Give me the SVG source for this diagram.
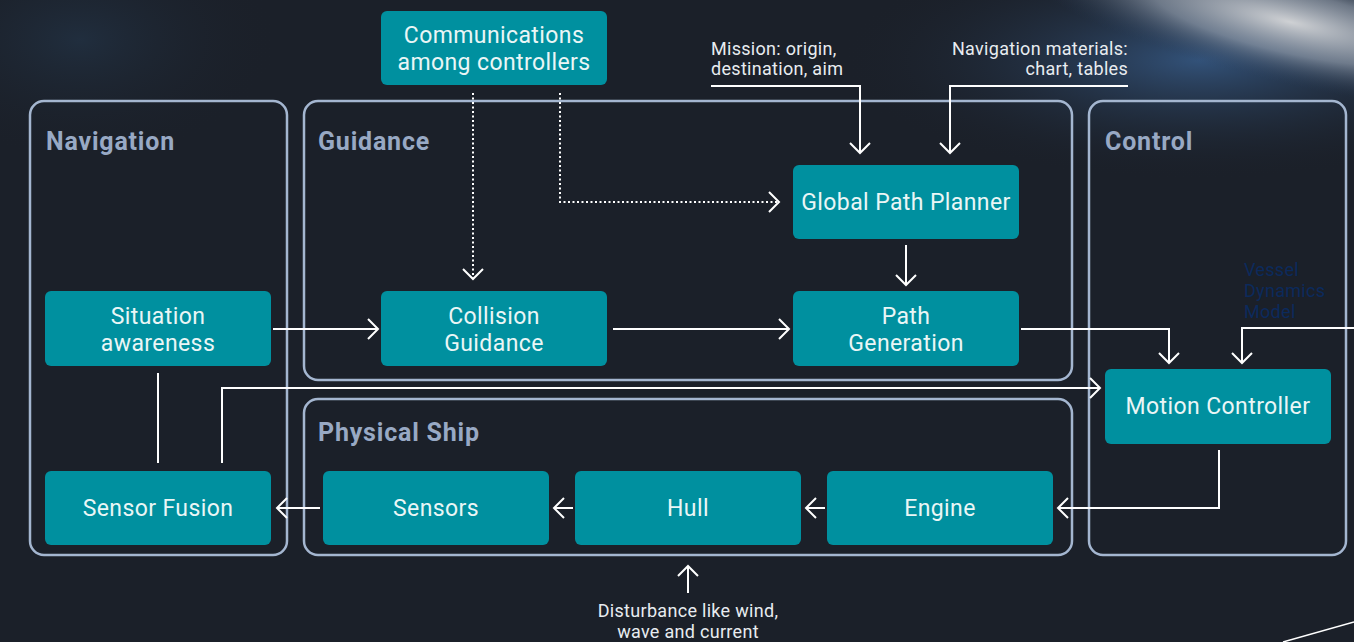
<svg xmlns="http://www.w3.org/2000/svg" width="1354" height="642" viewBox="0 0 1354 642">
<defs>
<radialGradient id="glow" cx="0.5" cy="0.5" r="0.5">
<stop offset="0" stop-color="#cfd1d4" stop-opacity="1"/>
<stop offset="0.5" stop-color="#97a2b1" stop-opacity="0.65"/>
<stop offset="1" stop-color="#2a3d58" stop-opacity="0"/>
</radialGradient>
<radialGradient id="blue" cx="0.5" cy="0.5" r="0.5">
<stop offset="0" stop-color="#34557e" stop-opacity="0.95"/>
<stop offset="1" stop-color="#1b2029" stop-opacity="0"/>
</radialGradient>
<radialGradient id="tl" cx="0.5" cy="0.5" r="0.5">
<stop offset="0" stop-color="#24374c" stop-opacity="0.6"/>
<stop offset="1" stop-color="#1b2029" stop-opacity="0"/>
</radialGradient>
<marker id="ar" markerWidth="14" markerHeight="24" refX="11" refY="12" orient="auto" markerUnits="userSpaceOnUse">
<path d="M1,2 L11,12 L1,22" fill="none" stroke="#ffffff" stroke-width="2"/>
</marker>
<style>
.grp{fill:none;stroke:#a4b6d0;stroke-width:2.5}
.ttl{font-family:Roboto,"Liberation Sans",sans-serif;font-weight:bold;font-size:25px;letter-spacing:0.8px;fill:#98a9c4}
.node{fill:#00909f}
.nt{font-family:Roboto,"Liberation Sans",sans-serif;font-size:23px;letter-spacing:0.4px;fill:#eaf6f6;text-anchor:middle}
.lbl{font-family:Roboto,"Liberation Sans",sans-serif;font-size:18px;letter-spacing:0.3px;fill:#e8ecf0}
.ln{fill:none;stroke:#ffffff;stroke-width:2}
.dot{fill:none;stroke:#ffffff;stroke-width:2;stroke-dasharray:2 2.5}
</style>
</defs>
<rect x="0" y="0" width="1354" height="642" fill="#1b2029"/>
<ellipse cx="80" cy="40" rx="200" ry="120" fill="url(#tl)"/>
<ellipse cx="1200" cy="60" rx="360" ry="120" fill="url(#blue)"/>
<ellipse cx="1290" cy="22" rx="280" ry="62" fill="url(#glow)" transform="rotate(13 1290 22)"/>
<path d="M1283,642 L1354,622" stroke="#ffffff" stroke-width="1.5" fill="none"/>

<g id="navigation">
<rect class="grp" x="30" y="101" width="257" height="454" rx="14"/>
<text class="ttl" x="46" y="150">Navigation</text>
</g>
<g id="guidance">
<rect class="grp" x="304" y="101" width="768" height="279" rx="14"/>
<text class="ttl" x="318" y="150">Guidance</text>
</g>
<g id="control">
<rect class="grp" x="1089" y="101" width="257" height="454" rx="14"/>
<text class="ttl" x="1105" y="150">Control</text>
</g>
<g id="physical-ship">
<rect class="grp" x="304" y="399" width="768" height="156" rx="14"/>
<text class="ttl" x="318" y="441">Physical Ship</text>
</g>

<g id="connectors">
<path class="ln" d="M273,329 H378" marker-end="url(#ar)"/>
<path class="ln" d="M613,329 H789" marker-end="url(#ar)"/>
<path class="ln" d="M906,245 V285" marker-end="url(#ar)"/>
<path class="ln" d="M1021,329 H1169 V363" marker-end="url(#ar)"/>
<path class="ln" d="M1354,328 H1242 V363" marker-end="url(#ar)"/>
<path class="ln" d="M158,373 V463"/>
<path class="ln" d="M222,463 V388 H1100" marker-end="url(#ar)"/>
<path class="ln" d="M1219,450 V508 H1058" marker-end="url(#ar)"/>
<path class="ln" d="M825,508 H806" marker-end="url(#ar)"/>
<path class="ln" d="M573,508 H554" marker-end="url(#ar)"/>
<path class="ln" d="M320,508 H277" marker-end="url(#ar)"/>
<path class="ln" d="M688,593 V566" marker-end="url(#ar)"/>
<path class="dot" d="M473,93 V279" marker-end="url(#ar)"/>
<path class="dot" d="M560,93 V202 H779" marker-end="url(#ar)"/>
<path class="ln" d="M711,86 H860 V153" marker-end="url(#ar)"/>
<path class="ln" d="M1128,86 H950 V153" marker-end="url(#ar)"/>
</g>

<g id="communications">
<rect class="node" x="381" y="11" width="226" height="74" rx="6"/>
<text class="nt" x="494" y="43">Communications</text>
<text class="nt" x="494" y="70">among controllers</text>
</g>
<g id="global-path-planner">
<rect class="node" x="793" y="165" width="226" height="74" rx="6"/>
<text class="nt" x="906" y="210">Global Path Planner</text>
</g>
<g id="situation-awareness">
<rect class="node" x="45" y="291" width="226" height="75" rx="6"/>
<text class="nt" x="158" y="324">Situation</text>
<text class="nt" x="158" y="351">awareness</text>
</g>
<g id="collision-guidance">
<rect class="node" x="381" y="291" width="226" height="75" rx="6"/>
<text class="nt" x="494" y="324">Collision</text>
<text class="nt" x="494" y="351">Guidance</text>
</g>
<g id="path-generation">
<rect class="node" x="793" y="291" width="226" height="75" rx="6"/>
<text class="nt" x="906" y="324">Path</text>
<text class="nt" x="906" y="351">Generation</text>
</g>
<g id="motion-controller">
<rect class="node" x="1105" y="369" width="226" height="75" rx="6"/>
<text class="nt" x="1218" y="414">Motion Controller</text>
</g>
<g id="sensor-fusion">
<rect class="node" x="45" y="471" width="226" height="74" rx="6"/>
<text class="nt" x="158" y="516">Sensor Fusion</text>
</g>
<g id="sensors">
<rect class="node" x="323" y="471" width="226" height="74" rx="6"/>
<text class="nt" x="436" y="516">Sensors</text>
</g>
<g id="hull">
<rect class="node" x="575" y="471" width="226" height="74" rx="6"/>
<text class="nt" x="688" y="516">Hull</text>
</g>
<g id="engine">
<rect class="node" x="827" y="471" width="226" height="74" rx="6"/>
<text class="nt" x="940" y="516">Engine</text>
</g>

<g id="labels">
<text class="lbl" x="711" y="55">Mission: origin,</text>
<text class="lbl" x="711" y="75">destination, aim</text>
<text class="lbl" x="1128" y="55" text-anchor="end">Navigation materials:</text>
<text class="lbl" x="1128" y="75" text-anchor="end">chart, tables</text>
<text class="lbl" x="688" y="617" text-anchor="middle">Disturbance like wind,</text>
<text class="lbl" x="688" y="638" text-anchor="middle">wave and current</text>
<text class="lbl" x="1244" y="276" style="fill:#0c2a5c">Vessel</text>
<text class="lbl" x="1244" y="297" style="fill:#0c2a5c">Dynamics</text>
<text class="lbl" x="1244" y="318" style="fill:#0c2a5c">Model</text>
</g>
</svg>
